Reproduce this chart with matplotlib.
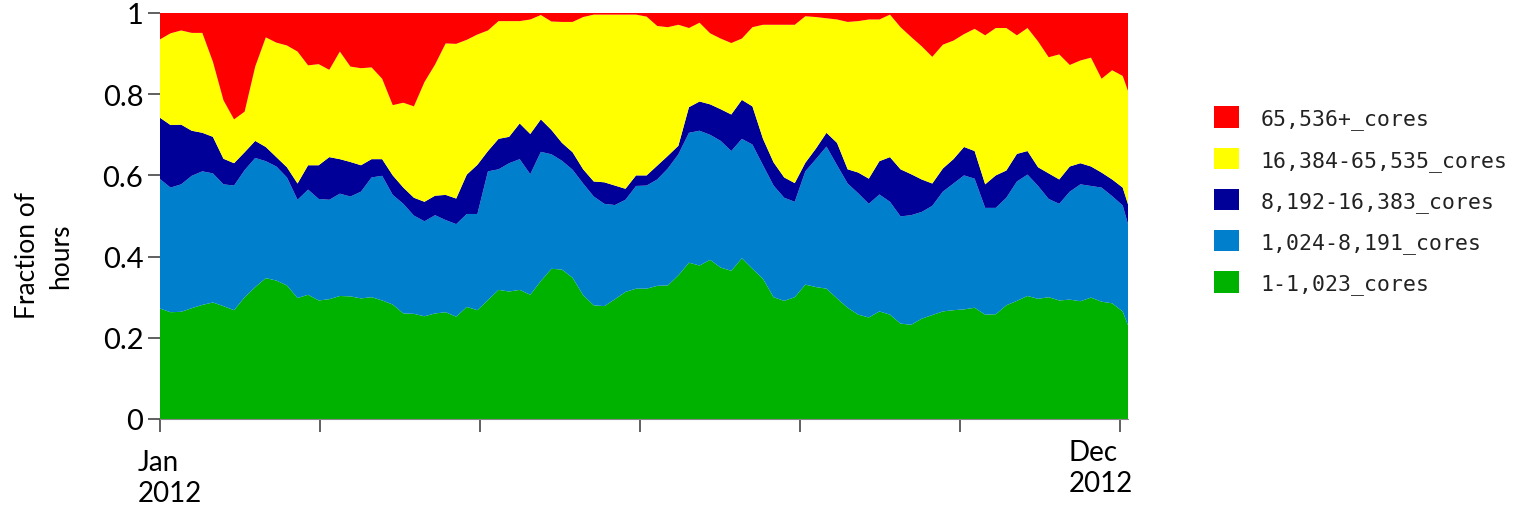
import numpy as np
import matplotlib
matplotlib.use("Agg")
import matplotlib.pyplot as plt
from matplotlib.patches import Patch

# Day of year 2012 (sampled every 4 days, last point = end of year)
days = list(range(0, 365, 4)) + [366]

# Cumulative fraction of hours (top edge of each band)
cum_1k = [
    0.272, 0.263, 0.264, 0.273, 0.281, 0.287, 0.278, 0.268, 0.300, 0.325, 0.347, 0.341, 0.329, 0.298, 0.306, 0.292, 0.295, 0.303, 0.302,
    0.297, 0.300, 0.292, 0.282, 0.260, 0.259, 0.253, 0.260, 0.263, 0.252, 0.276, 0.268, 0.293, 0.318, 0.314, 0.318, 0.306, 0.340,
    0.370, 0.368, 0.348, 0.305, 0.280, 0.278, 0.295, 0.313, 0.321, 0.321, 0.328, 0.329, 0.354, 0.385, 0.378, 0.392, 0.373, 0.365, 0.396,
    0.370, 0.345, 0.300, 0.291, 0.300, 0.331, 0.325, 0.321, 0.297, 0.274, 0.257, 0.250, 0.265, 0.257, 0.235, 0.232, 0.247, 0.256,
    0.265, 0.268, 0.270, 0.274, 0.257, 0.258, 0.280, 0.291, 0.303, 0.296, 0.300, 0.292, 0.294, 0.290, 0.299, 0.289, 0.285, 0.265, 0.231,
]
cum_8k = [
    0.591, 0.570, 0.578, 0.599, 0.610, 0.605, 0.578, 0.575, 0.613, 0.643, 0.635, 0.622, 0.595, 0.540, 0.565, 0.542, 0.540, 0.555, 0.548,
    0.560, 0.595, 0.599, 0.552, 0.530, 0.501, 0.487, 0.502, 0.490, 0.480, 0.505, 0.505, 0.610, 0.615, 0.630, 0.640, 0.603, 0.658,
    0.652, 0.636, 0.614, 0.580, 0.548, 0.530, 0.527, 0.540, 0.574, 0.575, 0.590, 0.617, 0.652, 0.705, 0.710, 0.700, 0.685, 0.660, 0.690,
    0.676, 0.625, 0.575, 0.545, 0.535, 0.610, 0.640, 0.671, 0.625, 0.580, 0.556, 0.530, 0.553, 0.535, 0.499, 0.502, 0.510, 0.525,
    0.560, 0.580, 0.600, 0.592, 0.520, 0.520, 0.545, 0.585, 0.602, 0.574, 0.542, 0.530, 0.560, 0.578, 0.574, 0.570, 0.549, 0.526, 0.480,
]
cum_16k = [
    0.742, 0.724, 0.725, 0.710, 0.705, 0.695, 0.641, 0.630, 0.657, 0.685, 0.670, 0.645, 0.620, 0.580, 0.625, 0.625, 0.645, 0.640, 0.633,
    0.625, 0.640, 0.640, 0.600, 0.570, 0.545, 0.535, 0.550, 0.552, 0.543, 0.602, 0.626, 0.660, 0.690, 0.695, 0.728, 0.702, 0.738,
    0.712, 0.680, 0.657, 0.615, 0.585, 0.583, 0.575, 0.567, 0.600, 0.600, 0.624, 0.648, 0.673, 0.768, 0.782, 0.775, 0.763, 0.750, 0.786,
    0.770, 0.690, 0.632, 0.595, 0.581, 0.631, 0.666, 0.705, 0.680, 0.615, 0.607, 0.592, 0.635, 0.645, 0.615, 0.603, 0.590, 0.580,
    0.617, 0.640, 0.670, 0.660, 0.578, 0.600, 0.612, 0.653, 0.660, 0.620, 0.605, 0.590, 0.622, 0.630, 0.622, 0.607, 0.590, 0.570, 0.529,
]
cum_64k = [
    0.935, 0.950, 0.957, 0.951, 0.951, 0.880, 0.785, 0.738, 0.757, 0.868, 0.940, 0.927, 0.920, 0.905, 0.871, 0.874, 0.860, 0.905, 0.868,
    0.864, 0.866, 0.838, 0.773, 0.779, 0.770, 0.830, 0.873, 0.925, 0.924, 0.934, 0.947, 0.957, 0.980, 0.980, 0.980, 0.984, 0.995,
    0.979, 0.978, 0.978, 0.990, 0.996, 0.996, 0.996, 0.996, 0.996, 0.991, 0.968, 0.965, 0.971, 0.963, 0.976, 0.950, 0.937, 0.926, 0.937,
    0.965, 0.971, 0.971, 0.971, 0.971, 0.992, 0.990, 0.987, 0.984, 0.978, 0.980, 0.984, 0.984, 0.996, 0.965, 0.941, 0.918, 0.892,
    0.922, 0.932, 0.948, 0.961, 0.945, 0.963, 0.963, 0.945, 0.963, 0.930, 0.891, 0.898, 0.872, 0.883, 0.890, 0.838, 0.859, 0.845, 0.808,
]

labels = ["1-1,023_cores", "1,024-8,191_cores", "8,192-16,383_cores",
          "16,384-65,535_cores", "65,536+_cores"]
colors = ["#00b200", "#007fcc", "#000099", "#ffff00", "#ff0000"]

# per-band shares from the cumulative edges
edges = np.vstack([np.zeros(len(days)), cum_1k, cum_8k, cum_16k, cum_64k, np.ones(len(days))])
shares = np.diff(edges, axis=0)

fig = plt.figure(figsize=(15.15, 5.1), dpi=100)
ax = fig.add_axes([160 / 1515, 1 - 420 / 510, 968 / 1515, 406 / 510])

ax.stackplot(days, shares, colors=colors, linewidth=0)

ax.set_xlim(0, 366)
ax.set_ylim(0, 1)

ax.set_yticks([0, 0.2, 0.4, 0.6, 0.8, 1.0])
ax.set_yticklabels(["0", "0.2", "0.4", "0.6", "0.8", "1"], fontsize=21, family="Lato")
ax.set_xticks([0, 60.5, 121, 181.5, 242, 302.5, 363])
ax.set_xticklabels([])
ax.tick_params(axis="both", color="#444444", length=9, width=1.2)
ax.tick_params(axis="y", pad=3)

for s in ["top", "right", "left"]:
    ax.spines[s].set_visible(False)
ax.spines["bottom"].set_color("#888888")

ax.set_ylabel("Fraction of\nhours", fontsize=19, family="Lato", linespacing=1.4)
ax.yaxis.set_label_coords(-0.090, 0.404)

# date labels under the first and last ticks
ax.text(-8.5, -0.075, "Jan\n2012", transform=ax.transData, fontsize=20,
        family="Lato", ha="left", va="top", linespacing=1.22)
ax.text(343.5, -0.05, "Dec\n2012", transform=ax.transData, fontsize=20,
        family="Lato", ha="left", va="top", linespacing=1.22)

handles = [Patch(facecolor=c, edgecolor="none") for c in colors[::-1]]
fig.legend(handles, labels[::-1], loc="upper left",
           bbox_to_anchor=(1195 / 1515, 1 - 88 / 510), frameon=False,
           prop={"family": "DejaVu Sans Mono", "size": 15.5},
           handlelength=1.15, handleheight=1.15, labelspacing=0.85,
           handletextpad=1.0, labelcolor="#222222")

fig.savefig("out.png", dpi=100)
